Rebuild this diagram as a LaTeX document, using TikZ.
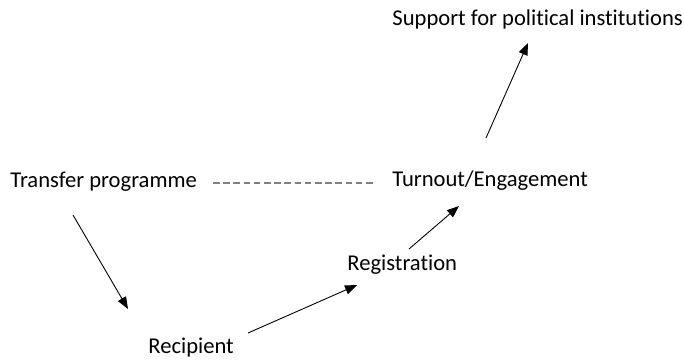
\documentclass[tikz,border=0pt]{standalone}
\usepackage{fontspec}
\setmainfont{Carlito}[Ligatures=NoCommon]
\usepackage{tikz}
\usetikzlibrary{arrows.meta, calc}
\tikzstyle{factor}=[inner sep=0pt, anchor=base west, font=\fontsize{11.3}{13}\selectfont]
\tikzstyle{link}=[-{Triangle[length=6pt, width=4.6pt]}, line width=0.45pt]
\tikzstyle{weak}=[gray, line width=0.9pt, dash pattern=on 3.25pt off 1.85pt]

\begin{document}
\begin{tikzpicture}[x=0.5pt, y=-0.5pt]
		\useasboundingbox (0,0) rectangle (684,360);
		\node[factor] (T) at (10,187) {Transfer programme};
		\node[factor] (R) at (148,353) {Recipient};
		\node[factor] (G) at (347,270) {Registration};
		\node[factor] (E) at (392,186) {Turnout/Engagement};
		\node[factor] (S) at (392,25) {Support for political institutions};
		\draw[weak] ($(T.base west)+(203,-4)$) -- ($(E.base west)+(-16,-3)$);
		\draw[link] ($(T.base west)+(63,28)$) -- ($(R.base west)+(-20,-44)$);
		\draw[link] ($(R.base west)+(100,-20)$) -- ($(G.base west)+(10,15)$);
		\draw[link] ($(G.base west)+(62,-21)$) -- ($(E.base west)+(67,20)$);
		\draw[link] ($(E.base west)+(94,-48)$) -- ($(S.base west)+(136,18)$);
	\end{tikzpicture}
\end{document}
